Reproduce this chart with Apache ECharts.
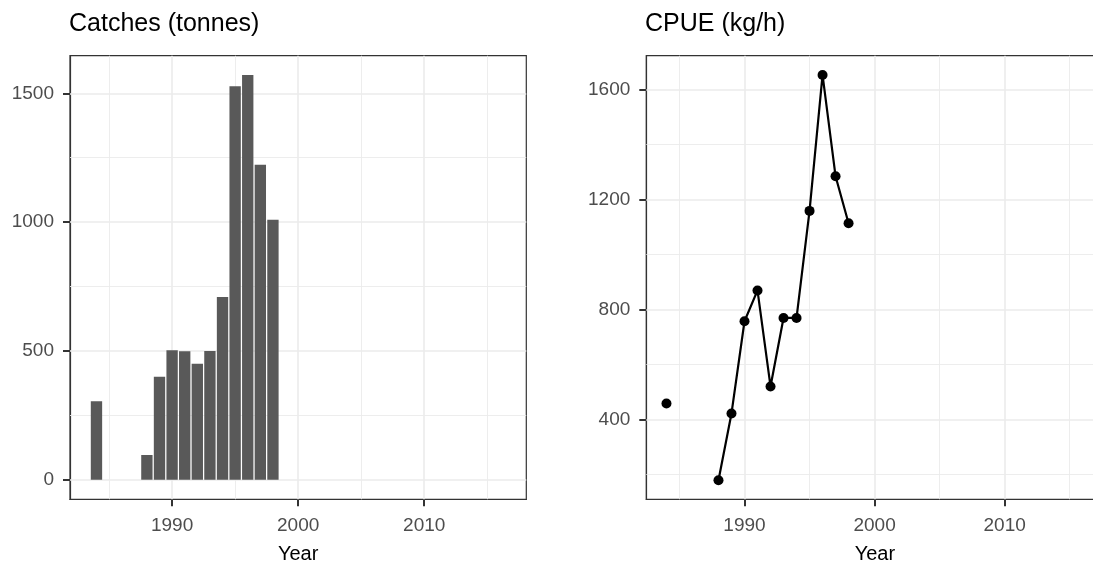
<!DOCTYPE html>
<html>
<head>
<meta charset="utf-8">
<script src="https://cdn.jsdelivr.net/npm/echarts@6/dist/echarts.min.js"></script>
<style>
  html, body { margin: 0; padding: 0; background: #fff; }
  #chart { width: 1093px; height: 562px; }
</style>
</head>
<body>
<div id="chart"></div>
<script>
// data
const years = [1984, 1985, 1986, 1987, 1988, 1989, 1990, 1991, 1992, 1993, 1994, 1995, 1996, 1997, 1998];
const catches = [305, null, null, null, 96, 400, 503, 499, 450, 500, 709, 1527, 1571, 1223, 1009];
const cpue = [458, null, null, null, 179, 422, 757, 869, 520, 769, 769, 1158, 1652, 1284, 1113];

const yearTicks = [1990, 2000, 2010];
const yearMinor = [1985, 1995, 2005, 2015];
const catchTicks = [0, 500, 1000, 1500];
const catchMinor = [250, 750, 1250];
const cpueTicks = [400, 800, 1200, 1600];
const cpueMinor = [200, 600, 1000, 1400];

const FONT = 'Liberation Sans, Arial, sans-serif';
const GRID = '#EBEBEB';
const INK = '#333333';

// gridlines as markLines so they sit exactly on the wanted values
function gridLines(xMajor, xMinor, yMajor, yMinor) {
  const major = {color: GRID, width: 1.6, type: 'solid'};
  const minor = {color: GRID, width: 0.9, type: 'solid'};
  const data = [];
  xMinor.forEach(v => data.push({xAxis: v, lineStyle: minor}));
  yMinor.forEach(v => data.push({yAxis: v, lineStyle: minor}));
  xMajor.forEach(v => data.push({xAxis: v, lineStyle: major}));
  yMajor.forEach(v => data.push({yAxis: v, lineStyle: major}));
  return data;
}

function xAxisOpt(idx, min, max) {
  return {
    type: 'value', gridIndex: idx, min: min, max: max,
    name: 'Year', nameLocation: 'middle', nameGap: 45,
    nameTextStyle: {color: '#000', fontSize: 20, fontFamily: FONT},
    axisLine: {show: true, onZero: false, lineStyle: {color: INK, width: 1.2}},
    axisTick: {show: true, length: 7, lineStyle: {color: INK, width: 2}, customValues: yearTicks},
    axisLabel: {color: '#4D4D4D', fontSize: 19, fontFamily: FONT, margin: 17,
      customValues: yearTicks, formatter: v => String(v)},
    splitLine: {show: false}
  };
}

function yAxisOpt(idx, min, max, ticks) {
  return {
    type: 'value', gridIndex: idx, min: min, max: max,
    axisLine: {show: true, onZero: false, lineStyle: {color: INK, width: 1.2}},
    axisTick: {show: true, length: 7, lineStyle: {color: INK, width: 2}, customValues: ticks},
    axisLabel: {color: '#4D4D4D', fontSize: 19, fontFamily: FONT, margin: 16,
      customValues: ticks, formatter: v => String(v)},
    splitLine: {show: false}
  };
}

const chart = echarts.init(document.getElementById('chart'), null, {renderer: 'canvas'});

chart.setOption({
  animation: false,
  backgroundColor: '#fff',
  title: [
    {text: 'Catches (tonnes)', left: 69, top: 12, padding: 0,
      textStyle: {color: '#000', fontSize: 25, fontWeight: 'normal', fontFamily: FONT}},
    {text: 'CPUE (kg/h)', left: 645, top: 12, padding: 0,
      textStyle: {color: '#000', fontSize: 25, fontWeight: 'normal', fontFamily: FONT}}
  ],
  grid: [
    {left: 70, right: 566.7, top: 55.7, bottom: 62.7, outerBoundsMode: 'none', containLabel: false,
      show: true, borderColor: INK, borderWidth: 1.2, backgroundColor: '#fff'},
    {left: 646.3, right: -10.5, top: 55.7, bottom: 62.7, outerBoundsMode: 'none', containLabel: false,
      show: true, borderColor: INK, borderWidth: 1.2, backgroundColor: '#fff'}
  ],
  xAxis: [
    xAxisOpt(0, 1981.9, 2018.1),
    xAxisOpt(1, 1982.45, 2017.6)
  ],
  yAxis: [
    yAxisOpt(0, -76, 1646, catchTicks),
    yAxisOpt(1, 110, 1722, cpueTicks)
  ],
  series: [
    {
      type: 'line', xAxisIndex: 0, yAxisIndex: 0, data: [], z: 1,
      markLine: {silent: true, symbol: 'none', z: 1, label: {show: false},
        data: gridLines(yearTicks, yearMinor, catchTicks, catchMinor)}
    },
    {
      type: 'line', xAxisIndex: 1, yAxisIndex: 1, data: [], z: 1,
      markLine: {silent: true, symbol: 'none', z: 1, label: {show: false},
        data: gridLines(yearTicks, yearMinor, cpueTicks, cpueMinor)}
    },
    {
      name: 'Catches', type: 'bar', xAxisIndex: 0, yAxisIndex: 0, z: 10,
      barWidth: '90%',
      itemStyle: {color: '#595959'},
      data: years.map((y, i) => [y, catches[i]])
    },
    {
      name: 'CPUE', type: 'line', xAxisIndex: 1, yAxisIndex: 1, z: 10,
      connectNulls: false,
      symbol: 'circle', symbolSize: 10, showAllSymbol: true,
      lineStyle: {color: '#000', width: 2.2},
      itemStyle: {color: '#000'},
      data: years.map((y, i) => [y, cpue[i]])
    }
  ]
});
</script>
</body>
</html>
